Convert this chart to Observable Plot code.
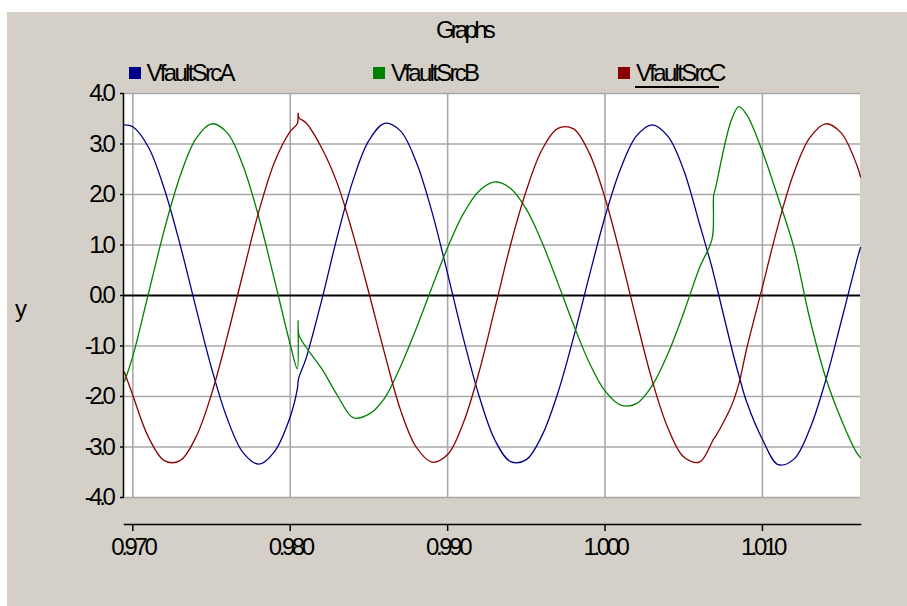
<!DOCTYPE html>
<html><head><meta charset="utf-8">
<script src="https://cdn.jsdelivr.net/npm/d3@7"></script>
<script src="https://cdn.jsdelivr.net/npm/@observablehq/plot@0.6"></script>
<style>
html,body{margin:0;padding:0;background:#fff;}
#wrap{position:relative;width:907px;height:606px;overflow:hidden;font-family:"Liberation Sans",Arial,sans-serif;}
#bg{position:absolute;left:7px;top:12px;width:900px;height:594px;background:#d4d0c8;}
.t{position:absolute;font-size:24px;line-height:24px;white-space:nowrap;color:#000;}
#title{letter-spacing:-3.8px;}
.leg{letter-spacing:-2.7px;}
.sw{position:absolute;width:12px;height:12px;}
#chart{position:absolute;left:0;top:0;}
</style></head>
<body><div id="wrap"><div id="bg"></div><div id="chart"></div></div>
<script>
const titleText = "Graphs";
const yLabelText = "y";
const seriesNames = ["VfaultSrcA", "VfaultSrcB", "VfaultSrcC"];
const seriesColors = ["#00008b", "#008000", "#8b0000"];

const time = [0.96947, 0.970, 0.971, 0.972, 0.973, 0.974, 0.975, 0.976, 0.977, 0.978,
  0.979, 0.980, 0.98045, 0.9805, 0.98055, 0.981, 0.982, 0.983, 0.984, 0.985,
  0.986, 0.987, 0.988, 0.989, 0.990, 0.991, 0.992, 0.993, 0.994, 0.995,
  0.996, 0.997, 0.998, 0.999, 1.000, 1.001, 1.002, 1.003, 1.004, 1.005,
  1.006, 1.0068, 1.0069, 1.007, 1.008, 1.0085, 1.009, 1.010, 1.011, 1.012,
  1.013, 1.014, 1.015, 1.016, 1.01623];

const vfaultA = [3.38, 3.34, 2.93, 2.11, 1.01, -0.23, -1.44, -2.44, -3.11, -3.34,
  -3.09, -2.40, -1.85, -1.70, -1.62, -1.25, -0.09, 1.18, 2.29, 3.07,
  3.41, 3.26, 2.65, 1.66, 0.43, -0.85, -1.99, -2.86, -3.29, -3.25,
  -2.77, -1.93, -0.83, 0.39, 1.56, 2.52, 3.16, 3.38, 3.15, 2.48,
  1.42, 0.55, 0.42, 0.30, -0.99, -1.58, -2.11, -2.85, -3.35, -3.24,
  -2.65, -1.70, -0.52, 0.70, 0.95];

const vfaultB = [-1.70, -1.20, 0.05, 1.30, 2.36, 3.10, 3.40, 3.22, 2.57, 1.55,
  0.31, -0.97, -1.45, -0.50, -0.78, -1.02, -1.45, -1.98, -2.42, -2.35,
  -2.03, -1.41, -0.66, 0.16, 0.95, 1.62, 2.07, 2.25, 2.12, 1.71,
  1.05, 0.25, -0.58, -1.33, -1.89, -2.17, -2.14, -1.78, -1.15, -0.34,
  0.55, 1.12, 1.98, 2.10, 3.45, 3.74, 3.58, 2.85, 1.93, 0.95,
  -0.45, -1.61, -2.45, -3.12, -3.21];

const vfaultC = [-1.52, -1.98, -2.81, -3.27, -3.27, -2.81, -1.95, -0.81, 0.44, 1.66,
  2.64, 3.25, 3.40, 3.61, 3.52, 3.42, 2.92, 2.21, 1.20, 0.05,
  -1.15, -2.26, -3.00, -3.30, -3.15, -2.52, -1.51, -0.26, 1.01, 2.08,
  2.89, 3.31, 3.30, 2.82, 1.93, 0.77, -0.49, -1.69, -2.63, -3.20,
  -3.30, -2.90, -2.84, -2.80, -2.21, -1.75, -1.05, 0.17, 1.40, 2.43,
  3.12, 3.40, 3.22, 2.58, 2.35];

const xTicks = [0.970, 0.980, 0.990, 1.000, 1.010];
const xTickLabels = ["0.970", "0.980", "0.990", "1.000", "1.010"];
const yTicks = [4, 3, 2, 1, 0, -1, -2, -3, -4];
const yTickLabels = ["4.0", "3.0", "2.0", "1.0", "0.0", "-1.0", "-2.0", "-3.0", "-4.0"];
const xDomain = [0.96947, 1.01623];
const yDomain = [-4, 4];

// ---- build rows ----
const rows = [];
[vfaultA, vfaultB, vfaultC].forEach((arr, k) =>
  arr.forEach((v, i) => rows.push({t: time[i], v, s: seriesNames[k]})));

const W = 907, H = 606, L = 124, R = 860, T = 93, B = 497, AX = 524;
const FONT = "'Liberation Sans', Arial, sans-serif";

const svg = Plot.plot({
  width: W, height: H,
  marginLeft: L, marginRight: W - R, marginTop: T, marginBottom: H - AX,
  style: {background: "transparent", fontFamily: FONT, fontSize: "24px", color: "black", overflow: "visible"},
  x: {domain: xDomain, label: null},
  y: {domain: yDomain, range: [B, T], label: null},
  color: {domain: seriesNames, range: seriesColors},
  marks: [
    Plot.rect([{x1: xDomain[0], x2: xDomain[1], y1: yDomain[0], y2: yDomain[1]}],
      {x1: "x1", x2: "x2", y1: "y1", y2: "y2", fill: "white"}),
    Plot.ruleY(yTicks.filter(d => d !== 0), {y: d => d, stroke: "#a8a8a8", strokeWidth: 1.6}),
    Plot.ruleX(xTicks, {x: d => d, y1: () => yDomain[0], y2: () => yDomain[1], stroke: "#a8a8a8", strokeWidth: 1.6}),
    Plot.ruleY([0], {y: d => d, stroke: "black", strokeWidth: 2}),
    Plot.line(rows, {x: "t", y: "v", stroke: "s", curve: "catmull-rom", strokeWidth: 1.3}),
    Plot.ruleX([xDomain[0]], {x: d => d, y1: () => yDomain[0], y2: () => yDomain[1], stroke: "black", strokeWidth: 1.5, dx: -1}),
    Plot.axisY({ticks: yTicks, tickFormat: d => yTickLabels[yTicks.indexOf(d)], tickSize: 4, tickPadding: 8,
      fontSize: 24, stroke: "black", strokeWidth: 1.5, label: null}),
    Plot.axisX({ticks: xTicks, tickFormat: d => xTickLabels[xTicks.indexOf(d)], tickSize: 7, tickPadding: 6,
      fontSize: 24, stroke: "black", strokeWidth: 1.5, label: null}),
    Plot.frame({anchor: "bottom", stroke: "black", strokeWidth: 1.5})
  ]
});
d3.select(svg).selectAll("text").style("letter-spacing", "-3.4px").style("font-family", FONT);
document.getElementById("chart").appendChild(svg);

// ---- title, legend, y label (HTML) ----
const wrap = d3.select("#wrap");
wrap.append("div").attr("id", "title").attr("class", "t")
  .style("left", "436px").style("top", "18px").text(titleText);
wrap.append("div").attr("class", "t").style("letter-spacing", "-1px")
  .style("left", "15px").style("top", "297px").text(yLabelText);

const legendLeft = [128.5, 373, 618];
seriesNames.forEach((name, i) => {
  wrap.append("div").attr("class", "sw")
    .style("left", legendLeft[i] + "px").style("top", "67px")
    .style("background", seriesColors[i]);
  wrap.append("div").attr("class", "t leg")
    .style("left", (legendLeft[i] + 18) + "px").style("top", "61px").text(name);
});
// underline under the last legend entry (as in the reference)
wrap.append("div").style("position", "absolute").style("left", "635px").style("top", "86px")
  .style("width", "84px").style("height", "1.5px").style("background", "#000");
</script>
</body></html>
